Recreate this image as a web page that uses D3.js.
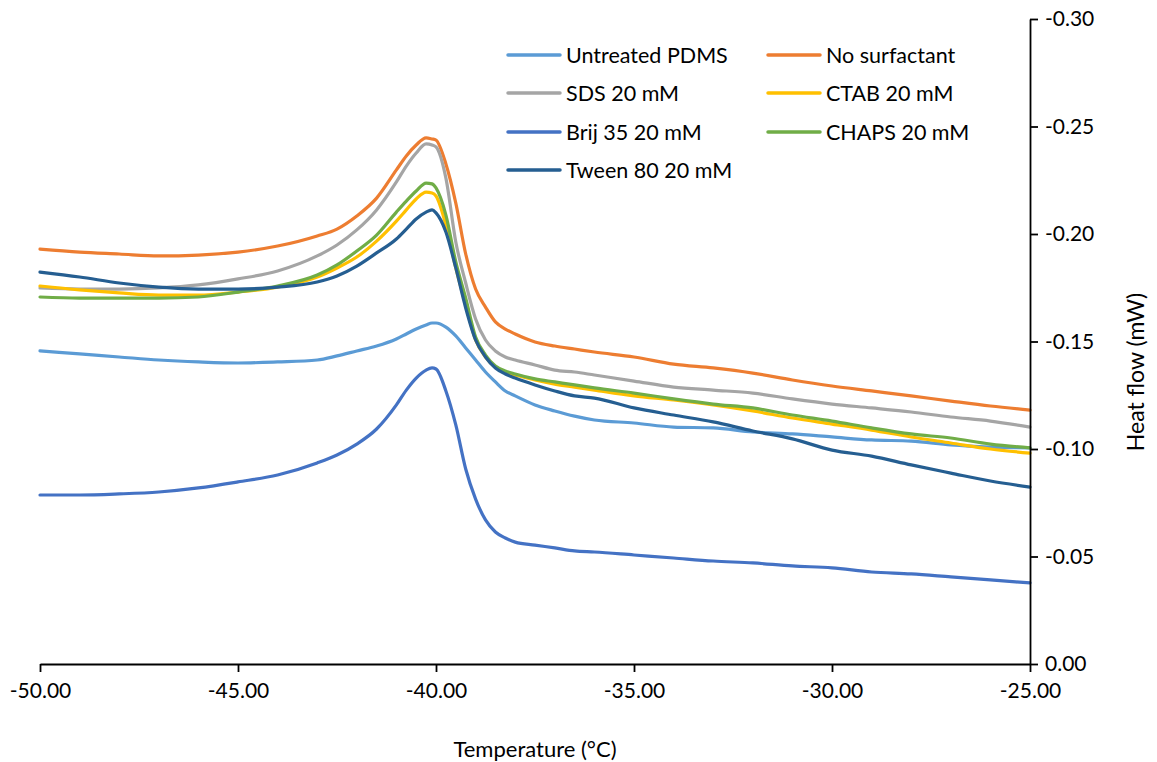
<!DOCTYPE html>
<html>
<head>
<meta charset="utf-8">
<script src="https://cdn.jsdelivr.net/npm/d3@7"></script>
<style>
  body { margin: 0; background: #fff; }
  text { font-family: Lato, "Open Sans", sans-serif; fill: #000; }
</style>
</head>
<body>
<svg id="chart" width="1157" height="762"></svg>
<script>
// Temperature grid (°C) shared by all DSC traces
const temps = [-50, -49, -48, -47, -46, -45, -44, -43, -42.5, -42, -41.5, -41, -40.75, -40.5, -40.25, -40.1, -40,
  -39.75, -39.5, -39.25, -39, -38.75, -38.5, -38.25, -38, -37.5, -37, -36.5, -36, -35, -34, -33, -32, -31, -30,
  -29, -28, -27, -26, -25];

// Heat flow (mW) for each sample
const untreatedPDMS = [-0.1456, -0.1442, -0.1428, -0.1414, -0.1405, -0.1400, -0.1405, -0.1414, -0.1433, -0.1456,
  -0.1479, -0.1512, -0.1535, -0.1558, -0.1577, -0.1586, -0.1586, -0.1567, -0.1526, -0.1470, -0.1414, -0.1358,
  -0.1312, -0.1270, -0.1247, -0.1205, -0.1177, -0.1153, -0.1135, -0.1121, -0.1102, -0.1098, -0.1079, -0.1070,
  -0.1056, -0.1042, -0.1037, -0.1019, -0.1009, -0.1005];
const noSurfactant = [-0.1930, -0.1916, -0.1907, -0.1898, -0.1902, -0.1916, -0.1944, -0.1991, -0.2023, -0.2084,
  -0.2167, -0.2298, -0.2363, -0.2414, -0.2447, -0.2442, -0.2437, -0.2326, -0.2144, -0.1907, -0.1744, -0.1660,
  -0.1591, -0.1558, -0.1535, -0.1498, -0.1479, -0.1465, -0.1451, -0.1428, -0.1395, -0.1377, -0.1353, -0.1321,
  -0.1293, -0.1270, -0.1247, -0.1223, -0.1200, -0.1181];
const sds = [-0.1749, -0.1744, -0.1744, -0.1749, -0.1763, -0.1791, -0.1828, -0.1898, -0.1949, -0.2019,
  -0.2112, -0.2242, -0.2316, -0.2377, -0.2419, -0.2414, -0.2405, -0.2260, -0.1963, -0.1772, -0.1605, -0.1507,
  -0.1456, -0.1428, -0.1414, -0.1391, -0.1367, -0.1358, -0.1344, -0.1316, -0.1288, -0.1274, -0.1260, -0.1233,
  -0.1209, -0.1191, -0.1172, -0.1149, -0.1130, -0.1102];
const ctab = [-0.1758, -0.1740, -0.1726, -0.1716, -0.1716, -0.1730, -0.1753, -0.1800, -0.1842, -0.1893,
  -0.1967, -0.2060, -0.2112, -0.2163, -0.2195, -0.2191, -0.2177, -0.2042, -0.1842, -0.1670, -0.1507, -0.1428,
  -0.1381, -0.1358, -0.1344, -0.1321, -0.1302, -0.1288, -0.1274, -0.1247, -0.1228, -0.1205, -0.1177, -0.1144,
  -0.1116, -0.1088, -0.1056, -0.1028, -0.1000, -0.0981];
const brij35 = [-0.0786, -0.0786, -0.0791, -0.0800, -0.0819, -0.0847, -0.0879, -0.0935, -0.0972, -0.1023,
  -0.1093, -0.1205, -0.1274, -0.1330, -0.1367, -0.1377, -0.1372, -0.1270, -0.1112, -0.0907, -0.0767, -0.0670,
  -0.0614, -0.0586, -0.0567, -0.0553, -0.0540, -0.0526, -0.0521, -0.0507, -0.0493, -0.0479, -0.0470, -0.0456,
  -0.0447, -0.0428, -0.0419, -0.0405, -0.0391, -0.0377];
const chaps = [-0.1707, -0.1702, -0.1702, -0.1702, -0.1707, -0.1730, -0.1758, -0.1809, -0.1856, -0.1921,
  -0.1995, -0.2102, -0.2153, -0.2200, -0.2237, -0.2233, -0.2214, -0.2088, -0.1870, -0.1702, -0.1521, -0.1437,
  -0.1386, -0.1363, -0.1349, -0.1326, -0.1312, -0.1298, -0.1284, -0.1260, -0.1233, -0.1209, -0.1191, -0.1158,
  -0.1130, -0.1098, -0.1070, -0.1051, -0.1023, -0.1005];
const tween80 = [-0.1823, -0.1800, -0.1772, -0.1753, -0.1744, -0.1744, -0.1753, -0.1777, -0.1805, -0.1851,
  -0.1912, -0.1977, -0.2023, -0.2070, -0.2102, -0.2112, -0.2098, -0.2009, -0.1842, -0.1656, -0.1507, -0.1428,
  -0.1377, -0.1349, -0.1330, -0.1298, -0.1270, -0.1247, -0.1237, -0.1191, -0.1158, -0.1126, -0.1084, -0.1047,
  -0.0995, -0.0967, -0.0926, -0.0888, -0.0851, -0.0823];

const seriesNames = ["Untreated PDMS", "No surfactant", "SDS 20 mM", "CTAB 20 mM", "Brij 35 20 mM", "CHAPS 20 mM", "Tween 80 20 mM"];
const seriesValues = [untreatedPDMS, noSurfactant, sds, ctab, brij35, chaps, tween80];
const seriesColors = ["#5B9BD5", "#ED7D31", "#A5A5A5", "#FFC000", "#4472C4", "#70AD47", "#255E91"];

const xTicks = [-50, -45, -40, -35, -30, -25];
const yTicks = [0, -0.05, -0.10, -0.15, -0.20, -0.25, -0.30];
const xTitle = "Temperature (°C)";
const yTitle = "Heat flow (mW)";

const svg = d3.select("#chart");
const plot = { left: 40, right: 1030, top: 19, bottom: 664 };

const x = d3.scaleLinear().domain([-50, -25]).range([plot.left, plot.right]);
const y = d3.scaleLinear().domain([0, -0.30]).range([plot.bottom, plot.top]);

// Traces
const line = d3.line()
  .x(d => x(d[0]))
  .y(d => y(d[1]))
  .curve(d3.curveMonotoneX);

seriesValues.forEach((vals, i) => {
  svg.append("path")
    .datum(temps.map((t, j) => [t, vals[j]]))
    .attr("fill", "none")
    .attr("stroke", seriesColors[i])
    .attr("stroke-width", 3.2)
    .attr("stroke-linejoin", "round")
    .attr("stroke-linecap", "round")
    .attr("d", line);
});

// Axes
const fmt = v => v.toFixed(2);

const xAxis = svg.append("g")
  .attr("transform", `translate(0,${plot.bottom})`)
  .call(d3.axisBottom(x).tickValues(xTicks).tickFormat(fmt).tickSize(8).tickPadding(11).tickSizeOuter(0));

const yAxis = svg.append("g")
  .attr("transform", `translate(${plot.right},0)`)
  .call(d3.axisRight(y).tickValues(yTicks).tickFormat(fmt).tickSize(8).tickPadding(7).tickSizeOuter(0));

[xAxis, yAxis].forEach(g => {
  g.select(".domain").attr("stroke", "#000").attr("stroke-width", 1.8);
  g.selectAll(".tick line").attr("stroke", "#000").attr("stroke-width", 1.8);
  g.selectAll(".tick text").attr("font-size", 21).attr("fill", "#000").style("font-family", "Lato, sans-serif");
});

svg.append("text")
  .attr("x", (plot.left + plot.right) / 2)
  .attr("y", 748)
  .attr("text-anchor", "middle")
  .attr("dominant-baseline", "central")
  .attr("font-size", 22)
  .text(xTitle);

svg.append("text")
  .attr("transform", "translate(1135,372) rotate(-90)")
  .attr("text-anchor", "middle")
  .attr("dominant-baseline", "central")
  .attr("font-size", 23)
  .text(yTitle);

// Legend: two columns, row-major order
const legend = svg.append("g");
const legendCols = [508, 768];
const legendRows = [55, 93, 132, 170];
seriesNames.forEach((name, i) => {
  const lx = legendCols[i % 2];
  const ly = legendRows[Math.floor(i / 2)];
  legend.append("line")
    .attr("x1", lx).attr("x2", lx + 52)
    .attr("y1", ly).attr("y2", ly)
    .attr("stroke", seriesColors[i])
    .attr("stroke-width", 3.5)
    .attr("stroke-linecap", "round");
  legend.append("text")
    .attr("x", lx + 58)
    .attr("y", ly)
    .attr("dominant-baseline", "central")
    .attr("font-size", 21.5)
    .text(name);
});
</script>
</body>
</html>
